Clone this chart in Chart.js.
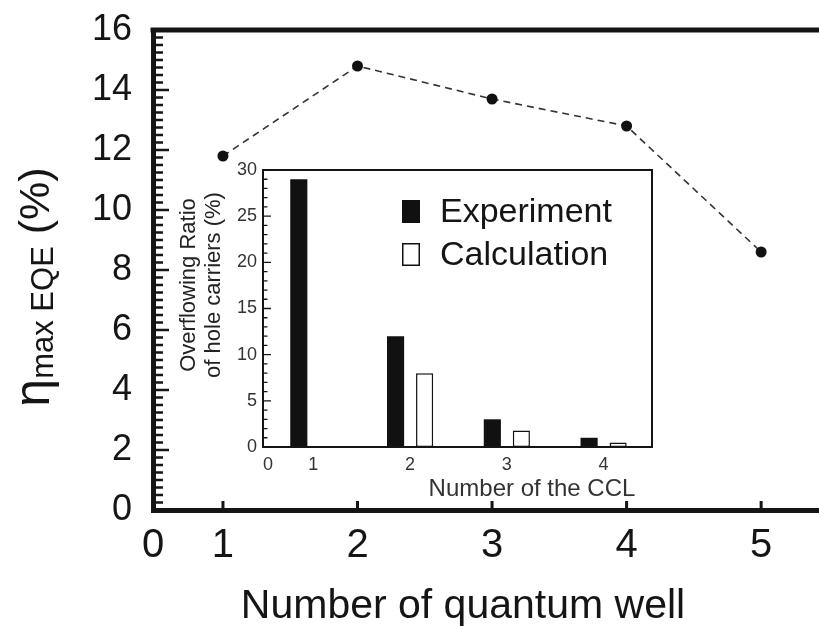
<!DOCTYPE html>
<html>
<head>
<meta charset="utf-8">
<script src="https://cdn.jsdelivr.net/npm/chart.js@4.4.1/dist/chart.umd.min.js"></script>
<style>
  html, body { margin: 0; padding: 0; background: #fff; }
  #wrap { position: relative; width: 819px; height: 626px; }
  #mainChart { position: absolute; left: 0; top: 0; }
  #insetChart { position: absolute; left: 160px; top: 150px; }
</style>
</head>
<body>
<div id="wrap">
  <canvas id="mainChart" width="819" height="626"></canvas>
  <canvas id="insetChart" width="510" height="360"></canvas>
</div>
<script>
// main plot: max EQE vs number of quantum wells
const wellCount = [1, 2, 3, 4, 5];
const eqeMax = [11.8, 14.8, 13.7, 12.8, 8.6];
const wellTickLabels = ['0', '1', '2', '3', '4', '5'];

// inset: overflowing ratio of hole carriers vs number of CCL
const cclCount = [1, 2, 3, 4];
const overflowExperiment = [29, 12, 3, 1];
const overflowCalculation = [null, 8, 1.8, 0.5];
const cclZeroLabel = '0';

const FONT = "'Liberation Sans', Arial, Helvetica, sans-serif";
const INK = '#151515';
Chart.defaults.font.family = FONT;

// no label overhang padding, so the plot area sits where the layout says
function noPad(s) {
    s.paddingTop = 0; s.paddingBottom = 0;
    s.paddingLeft = 0; s.paddingRight = 0;
}

function drawYTicks(chart, step, minorStep, majorLen, minorLen, width) {
    const { ctx, chartArea } = chart;
    const y = chart.scales.y;
    const n = Math.round((y.max - y.min) / minorStep);
    ctx.save();
    ctx.strokeStyle = INK;
    ctx.lineWidth = width;
    ctx.beginPath();
    for (let i = 0; i <= n; i++) {
        const v = y.min + i * minorStep;
        const p = y.getPixelForValue(v);
        const major = Math.abs(v / step - Math.round(v / step)) < 1e-6;
        ctx.moveTo(chartArea.left, p);
        ctx.lineTo(chartArea.left + (major ? majorLen : minorLen), p);
    }
    ctx.stroke();
    ctx.restore();
}

const mainDecor = {
    id: 'mainDecor',
    afterDatasetsDraw(chart) {
        const { ctx, chartArea } = chart;
        drawYTicks(chart, 2, 0.25, 16, 10, 2.6);

        // x ticks point up into the plot
        const x = chart.scales.x;
        ctx.save();
        ctx.strokeStyle = INK;
        ctx.lineWidth = 3;
        ctx.beginPath();
        wellCount.forEach(v => {
            const p = x.getPixelForValue(v);
            ctx.moveTo(p, chartArea.bottom);
            ctx.lineTo(p, chartArea.bottom - 9);
        });
        ctx.stroke();

        // top frame line
        ctx.lineWidth = 5;
        ctx.beginPath();
        ctx.moveTo(chartArea.left - 2.5, chartArea.top);
        ctx.lineTo(chartArea.right, chartArea.top);
        ctx.stroke();

        ctx.fillStyle = INK;
        // x title
        ctx.font = `41px ${FONT}`;
        ctx.textAlign = 'center';
        ctx.textBaseline = 'alphabetic';
        ctx.fillText('Number of quantum well', 463, 618);

        // y title: eta with "max EQE" subscript, then (%)
        const parts = [
            { t: '\u03B7', size: 50, dy: 0 },
            { t: 'max EQE', size: 31, dy: 4 },
            { t: ' (%)', size: 43, dy: 0 }
        ];
        let total = 0;
        parts.forEach(p => {
            ctx.font = `${p.size}px ${FONT}`;
            p.w = ctx.measureText(p.t).width;
            total += p.w;
        });
        ctx.translate(49, 287);
        ctx.rotate(-Math.PI / 2);
        ctx.textAlign = 'left';
        let pos = -total / 2;
        parts.forEach(p => {
            ctx.font = `${p.size}px ${FONT}`;
            ctx.fillText(p.t, pos, p.dy);
            pos += p.w;
        });
        ctx.restore();
    }
};

new Chart(document.getElementById('mainChart'), {
    type: 'line',
    data: {
        datasets: [{
            data: wellCount.map((w, i) => ({ x: w, y: eqeMax[i] })),
            borderColor: '#333',
            borderWidth: 1.6,
            borderDash: [7, 5],
            pointRadius: 5.5,
            pointBackgroundColor: '#111',
            pointBorderColor: '#111',
            pointBorderWidth: 0,
            tension: 0
        }]
    },
    options: {
        responsive: false,
        animation: false,
        devicePixelRatio: 1,
        layout: { autoPadding: false, padding: { top: 30, right: 0, left: 0, bottom: 0 } },
        plugins: { legend: { display: false }, tooltip: { enabled: false } },
        scales: {
            x: {
                type: 'linear',
                min: 0.48,
                max: 5.43,
                afterBuildTicks: s => { s.ticks = [s.min, ...wellCount].map(v => ({ value: v })); },
                afterFit: s => { s.height = 116; noPad(s); },
                ticks: {
                    callback: (v, i) => wellTickLabels[i],
                    font: { size: 40 },
                    color: INK,
                    padding: 12,
                    maxRotation: 0,
                    autoSkip: false
                },
                grid: { display: false, drawTicks: false },
                border: { display: true, color: INK, width: 5 }
            },
            y: {
                min: 0,
                max: 16,
                afterFit: s => { s.width = 153; noPad(s); },
                ticks: { stepSize: 2, font: { size: 36 }, color: INK, padding: 21 },
                grid: { display: false, drawTicks: false },
                border: { display: true, color: INK, width: 5 }
            }
        }
    },
    plugins: [mainDecor]
});

const insetDecor = {
    id: 'insetDecor',
    afterDatasetsDraw(chart) {
        const { ctx, chartArea } = chart;
        ctx.save();
        ctx.strokeStyle = INK;
        ctx.lineWidth = 2;
        ctx.strokeRect(chartArea.left, chartArea.top, chartArea.right - chartArea.left, chartArea.bottom - chartArea.top);
        ctx.restore();
        drawYTicks(chart, 5, 1, 8, 4.5, 1.3);

        ctx.save();
        ctx.fillStyle = '#333';
        // "0" label at the start of the x axis
        ctx.font = `18px ${FONT}`;
        ctx.textAlign = 'center';
        ctx.textBaseline = 'middle';
        ctx.fillText(cclZeroLabel, chartArea.left + 5, chartArea.bottom + 18);

        // x title
        ctx.font = `24px ${FONT}`;
        ctx.textBaseline = 'alphabetic';
        ctx.fillText('Number of the CCL', 372, 346);

        // legend
        ctx.textAlign = 'left';
        ctx.textBaseline = 'middle';
        ctx.font = `34px ${FONT}`;
        chart.data.datasets.forEach((ds, i) => {
            const cy = chartArea.top + 41 + i * 43;
            const sx = chartArea.left + 139;
            ctx.fillStyle = ds.backgroundColor;
            ctx.fillRect(sx, cy - 11, 18, 23);
            ctx.strokeStyle = ds.borderColor;
            ctx.lineWidth = 1.5;
            ctx.strokeRect(sx + 0.75, cy - 10.25, 16.5, 21.5);
            ctx.fillStyle = INK;
            ctx.fillText(ds.label, sx + 38, cy + 2);
        });

        // y title, two lines
        ctx.fillStyle = '#222';
        ctx.font = `22px ${FONT}`;
        ctx.translate(0, 135);
        ctx.rotate(-Math.PI / 2);
        ctx.textAlign = 'center';
        ctx.textBaseline = 'alphabetic';
        ctx.fillText('Overflowing Ratio', 0, 35);
        ctx.fillText('of hole carriers (%)', 0, 60);
        ctx.restore();
    }
};

new Chart(document.getElementById('insetChart'), {
    type: 'bar',
    data: {
        datasets: [
            {
                label: 'Experiment',
                data: cclCount.map((c, i) => ({ x: c, y: overflowExperiment[i] })),
                backgroundColor: '#111',
                borderColor: '#111',
                borderWidth: 0
            },
            {
                label: 'Calculation',
                data: cclCount.map((c, i) => ({ x: c, y: overflowCalculation[i] })),
                backgroundColor: '#fff',
                borderColor: '#111',
                borderWidth: 1.5,
                borderSkipped: false
            }
        ]
    },
    options: {
        responsive: false,
        animation: false,
        devicePixelRatio: 1,
        categoryPercentage: 0.6,
        barPercentage: 0.59,
        layout: { padding: { top: 20, right: 18, left: 0, bottom: 0 } },
        plugins: { legend: { display: false }, tooltip: { enabled: false } },
        scales: {
            x: {
                type: 'linear',
                min: 0.48,
                max: 4.5,
                offset: false,
                afterBuildTicks: s => { s.ticks = cclCount.map(v => ({ value: v })); },
                afterFit: s => { s.height = 63; noPad(s); },
                ticks: { font: { size: 18 }, color: '#333', padding: 7, maxRotation: 0, autoSkip: false },
                grid: { display: false, drawTicks: false, offset: false },
                border: { display: false }
            },
            y: {
                min: 0,
                max: 30,
                afterFit: s => { s.width = 103; noPad(s); },
                ticks: { stepSize: 5, font: { size: 18 }, color: '#333', padding: 6 },
                grid: { display: false, drawTicks: false },
                border: { display: false }
            }
        }
    },
    plugins: [insetDecor]
});
</script>
</body>
</html>
